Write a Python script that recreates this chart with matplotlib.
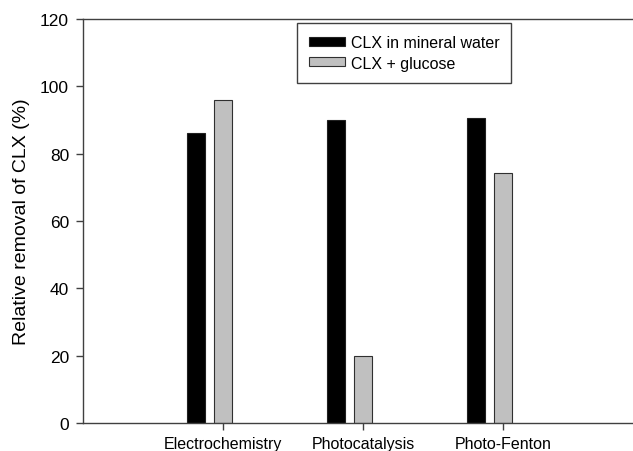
import numpy as np
import matplotlib.pyplot as plt

categories = ['Electrochemistry', 'Photocatalysis', 'Photo-Fenton']
mineral_water = [86, 90, 90.5]
glucose = [96, 20, 74.3]

font = 'Liberation Sans'

fig = plt.figure(figsize=(6.33, 4.52), dpi=100)
# axes run past the right edge of the figure, as in the original
ax = fig.add_axes([83 / 633, 28 / 452, 560 / 633, 404 / 452])

x = np.arange(1, len(categories) + 1)
width = 0.13
ax.bar(x - 0.195, mineral_water, width, color='black', edgecolor='#202020',
       linewidth=0.8, label='CLX in mineral water')
ax.bar(x, glucose, width, color='#c0c0c0', edgecolor='#303030',
       linewidth=0.8, label='CLX + glucose')

ax.set_xlim(0, 4)
ax.set_ylim(0, 120)
ax.set_yticks(range(0, 121, 20))
ax.set_xticks(x)
ax.set_xticklabels(categories, fontfamily=font, fontsize=11.5)
for lbl in ax.get_yticklabels():
    lbl.set_fontfamily(font)
    lbl.set_fontsize(12.5)
ax.tick_params(direction='out', length=5, width=1, color='#404040')
ax.tick_params(axis='x', pad=4.5)
ax.tick_params(axis='y', pad=5)
ax.set_ylabel('Relative removal of CLX (%)', fontfamily=font,
              fontsize=14, labelpad=7)

for side in ['left', 'bottom', 'top']:
    ax.spines[side].set_color('#404040')
    ax.spines[side].set_linewidth(1)
ax.spines['right'].set_visible(False)

leg = ax.legend(loc='upper left', bbox_to_anchor=(214 / 560, 400 / 404),
                prop={'family': font, 'size': 11.5}, frameon=True,
                fancybox=False, edgecolor='#404040', framealpha=1,
                handlelength=2.25, handleheight=0.5, handletextpad=0.35,
                borderpad=0.75, labelspacing=0.35, borderaxespad=0)
leg.get_frame().set_linewidth(1)

fig.savefig('out.png', dpi=100)
